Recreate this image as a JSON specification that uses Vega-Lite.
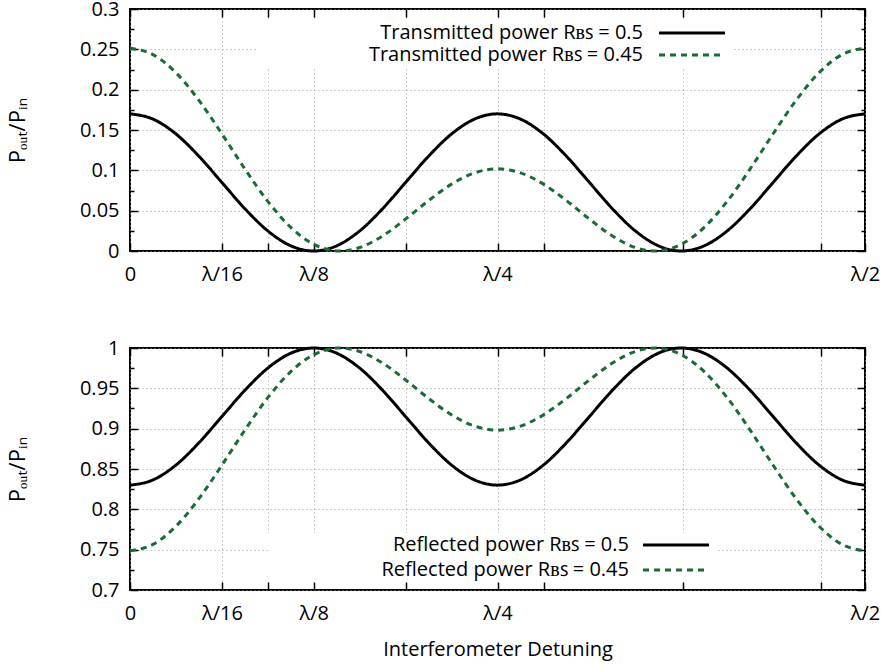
{
  "$schema": "https://vega.github.io/schema/vega-lite/v6.json",
  "padding": {"left": 5, "top": -2, "right": 4, "bottom": 5},
  "background": "white",
  "config": {
    "font": "Open Sans",
    "view": {"stroke": "black", "strokeWidth": 2},
    "axis": {
      "labelFont": "Open Sans", "labelFontSize": 20, "labelColor": "black",
      "titleFont": "Open Sans", "titleFontSize": 20, "titleFontWeight": "normal", "titleColor": "black",
      "domain": false, "gridColor": "#9a9a9a", "gridDash": [1, 3], "gridWidth": 1,
      "tickColor": "black", "tickWidth": 1.5,
      "labelFlush": false, "labelOverlap": false, "labelBound": false
    },
    "legend": {"labelFont": "Open Sans", "labelFontSize": 20, "labelColor": "black", "labelLimit": 600}
  },
  "datasets": {
    "d": [
      {"x": 0, "T50": 0.17, "T45": 0.25135, "R50": 0.83, "R45": 0.74865},
      {"x": 16.625, "T50": 0.16353, "T45": 0.243508, "R50": 0.83647, "R45": 0.756492},
      {"x": 33.25, "T50": 0.145104, "T45": 0.221013, "R50": 0.854896, "R45": 0.778987},
      {"x": 49.875, "T50": 0.117528, "T45": 0.186805, "R50": 0.882472, "R45": 0.813195},
      {"x": 66.5, "T50": 0.085, "T45": 0.145306, "R50": 0.915, "R45": 0.854694},
      {"x": 83.125, "T50": 0.052472, "T45": 0.101776, "R50": 0.947528, "R45": 0.898224},
      {"x": 99.75, "T50": 0.024896, "T45": 0.061553, "R50": 0.975104, "R45": 0.938447},
      {"x": 116.375, "T50": 0.00647, "T45": 0.029288, "R50": 0.99353, "R45": 0.970712},
      {"x": 133, "T50": 0, "T45": 0.0083, "R50": 1, "R45": 0.9917},
      {"x": 149.625, "T50": 0.00647, "T45": 0.000123, "R50": 0.99353, "R45": 0.999877},
      {"x": 151.94, "T50": 0.008385, "T45": 0, "R50": 0.991615, "R45": 1},
      {"x": 166.25, "T50": 0.024896, "T45": 0.004341, "R50": 0.975104, "R45": 0.995659},
      {"x": 182.875, "T50": 0.052472, "T45": 0.018718, "R50": 0.947528, "R45": 0.981282},
      {"x": 199.5, "T50": 0.085, "T45": 0.039594, "R50": 0.915, "R45": 0.960406},
      {"x": 216.125, "T50": 0.117528, "T45": 0.0625, "R50": 0.882472, "R45": 0.9375},
      {"x": 232.75, "T50": 0.145104, "T45": 0.082893, "R50": 0.854896, "R45": 0.917107},
      {"x": 249.375, "T50": 0.16353, "T45": 0.096881, "R50": 0.83647, "R45": 0.903119},
      {"x": 266, "T50": 0.17, "T45": 0.10185, "R50": 0.83, "R45": 0.89815},
      {"x": 282.625, "T50": 0.16353, "T45": 0.096881, "R50": 0.83647, "R45": 0.903119},
      {"x": 299.25, "T50": 0.145104, "T45": 0.082893, "R50": 0.854896, "R45": 0.917107},
      {"x": 315.875, "T50": 0.117528, "T45": 0.0625, "R50": 0.882472, "R45": 0.9375},
      {"x": 332.5, "T50": 0.085, "T45": 0.039594, "R50": 0.915, "R45": 0.960406},
      {"x": 349.125, "T50": 0.052472, "T45": 0.018718, "R50": 0.947528, "R45": 0.981282},
      {"x": 365.75, "T50": 0.024896, "T45": 0.004341, "R50": 0.975104, "R45": 0.995659},
      {"x": 380.06, "T50": 0.008385, "T45": 0, "R50": 0.991615, "R45": 1},
      {"x": 382.375, "T50": 0.00647, "T45": 0.000123, "R50": 0.99353, "R45": 0.999877},
      {"x": 399, "T50": 0, "T45": 0.0083, "R50": 1, "R45": 0.9917},
      {"x": 415.625, "T50": 0.00647, "T45": 0.029288, "R50": 0.99353, "R45": 0.970712},
      {"x": 432.25, "T50": 0.024896, "T45": 0.061553, "R50": 0.975104, "R45": 0.938447},
      {"x": 448.875, "T50": 0.052472, "T45": 0.101776, "R50": 0.947528, "R45": 0.898224},
      {"x": 465.5, "T50": 0.085, "T45": 0.145306, "R50": 0.915, "R45": 0.854694},
      {"x": 482.125, "T50": 0.117528, "T45": 0.186805, "R50": 0.882472, "R45": 0.813195},
      {"x": 498.75, "T50": 0.145104, "T45": 0.221013, "R50": 0.854896, "R45": 0.778987},
      {"x": 515.375, "T50": 0.16353, "T45": 0.243508, "R50": 0.83647, "R45": 0.756492},
      {"x": 532, "T50": 0.17, "T45": 0.25135, "R50": 0.83, "R45": 0.74865}
    ]
  },
  "spacing": 52,
  "resolve": {"scale": {"color": "independent", "strokeDash": "independent"}},
  "vconcat": [
    {
      "width": 735, "height": 242,
      "data": {"name": "d"},
      "transform": [{"fold": ["T50", "T45"], "as": ["s", "p"]}],
      "layer": [
        {
          "mark": {"type": "line", "strokeWidth": 3, "interpolate": "monotone"},
          "encoding": {
            "x": {"field": "x", "type": "quantitative", "scale": {"domain": [0, 532], "nice": false, "zero": false},
              "axis": {"orient": "bottom", "title": null, "values": [0, 66.5, 100, 133, 200, 266, 300, 400, 500, 532],
                "labelExpr": "datum.value == 0 ? '0' : datum.value == 66.5 ? 'λ/16' : datum.value == 133 ? 'λ/8' : datum.value == 266 ? 'λ/4' : datum.value == 532 ? 'λ/2' : ''",
                "tickSize": -8, "labelPadding": 21, "grid": true}},
            "y": {"field": "p", "type": "quantitative", "scale": {"domain": [0, 0.3], "nice": false},
              "axis": {"orient": "left", "title": "Pₒᵤₜ/Pᵢₙ", "titleFontSize": 22, "values": [0, 0.05, 0.1, 0.15, 0.2, 0.25, 0.3], "format": "~g",
                "tickSize": -8, "labelPadding": 19, "grid": true, "titlePadding": 50}},
            "color": {"field": "s", "type": "nominal", "scale": {"domain": ["T50", "T45"], "range": ["#000000", "#1b6b35"]},
              "legend": {"title": null, "orient": "none", "legendX": 127, "legendY": 11, "symbolType": "M-6,0H6", "symbolSize": 121, "symbolStrokeWidth": 3,
                "labelAlign": "right", "symbolOffset": 422, "labelOffset": -59, "fillColor": "white", "padding": 3, "rowPadding": 2,
                "labelExpr": "datum.value == 'T50' ? '\u2007Transmitted power Rʙꜱ = 0.5' : 'Transmitted power Rʙꜱ = 0.45'"}},
            "strokeDash": {"field": "s", "type": "nominal", "scale": {"domain": ["T50", "T45"], "range": [[1, 0], [6, 5]]},
              "legend": {"title": null, "orient": "none", "legendX": 127, "legendY": 11, "symbolType": "M-6,0H6", "symbolSize": 121, "symbolStrokeWidth": 3,
                "labelAlign": "right", "symbolOffset": 422, "labelOffset": -59, "fillColor": "white", "padding": 3, "rowPadding": 2,
                "labelExpr": "datum.value == 'T50' ? '\u2007Transmitted power Rʙꜱ = 0.5' : 'Transmitted power Rʙꜱ = 0.45'"}}
          }
        },
        {
          "mark": {"type": "point", "opacity": 0},
          "encoding": {
            "x": {"field": "x", "type": "quantitative", "axis": {"orient": "top", "title": null, "values": [0, 66.5, 100, 133, 200, 266, 300, 400, 500, 532], "labels": false, "tickSize": -8, "grid": false}},
            "y": {"field": "p", "type": "quantitative", "axis": {"orient": "right", "title": null, "values": [0, 0.05, 0.1, 0.15, 0.2, 0.25, 0.3], "labels": false, "tickSize": -8, "grid": false}}
          }
        },
        {
          "mark": {"type": "point", "opacity": 0},
          "encoding": {
            "x": {"field": "x", "type": "quantitative", "axis": null},
            "y": {"field": "p", "type": "quantitative", "axis": {"orient": "left", "title": null, "values": [0.025, 0.075, 0.125, 0.175, 0.225, 0.275], "labels": false, "tickSize": -4, "grid": false}}
          }
        },
        {
          "mark": {"type": "point", "opacity": 0},
          "encoding": {
            "x": {"field": "x", "type": "quantitative", "axis": null},
            "y": {"field": "p", "type": "quantitative", "axis": {"orient": "right", "title": null, "values": [0.025, 0.075, 0.125, 0.175, 0.225, 0.275], "labels": false, "tickSize": -4, "grid": false}}
          }
        }
      ],
      "resolve": {"axis": {"x": "independent", "y": "independent"}}
    },
    {
      "width": 735, "height": 242,
      "data": {"name": "d"},
      "transform": [{"fold": ["R50", "R45"], "as": ["s", "p"]}],
      "layer": [
        {
          "mark": {"type": "line", "strokeWidth": 3, "interpolate": "monotone"},
          "encoding": {
            "x": {"field": "x", "type": "quantitative", "scale": {"domain": [0, 532], "nice": false, "zero": false},
              "axis": {"orient": "bottom", "title": "Interferometer Detuning", "titlePadding": 16, "values": [0, 66.5, 100, 133, 200, 266, 300, 400, 500, 532],
                "labelExpr": "datum.value == 0 ? '0' : datum.value == 66.5 ? 'λ/16' : datum.value == 133 ? 'λ/8' : datum.value == 266 ? 'λ/4' : datum.value == 532 ? 'λ/2' : ''",
                "tickSize": -8, "labelPadding": 21, "grid": true}},
            "y": {"field": "p", "type": "quantitative", "scale": {"domain": [0.7, 1], "nice": false, "zero": false},
              "axis": {"orient": "left", "title": "Pₒᵤₜ/Pᵢₙ", "titleFontSize": 22, "values": [0.7, 0.75, 0.8, 0.85, 0.9, 0.95, 1], "format": "~g",
                "tickSize": -8, "labelPadding": 19, "grid": true, "titlePadding": 50}},
            "color": {"field": "s", "type": "nominal", "scale": {"domain": ["R50", "R45"], "range": ["#000000", "#1b6b35"]},
              "legend": {"title": null, "orient": "none", "legendX": 138, "legendY": 185, "symbolType": "M-6,0H6", "symbolSize": 121, "symbolStrokeWidth": 3,
                "labelAlign": "right", "symbolOffset": 396, "labelOffset": -57, "fillColor": "white", "padding": 2, "rowPadding": 5,
                "labelExpr": "datum.value == 'R50' ? '\u2007Reflected power Rʙꜱ = 0.5' : 'Reflected power Rʙꜱ = 0.45'"}},
            "strokeDash": {"field": "s", "type": "nominal", "scale": {"domain": ["R50", "R45"], "range": [[1, 0], [6, 5]]},
              "legend": {"title": null, "orient": "none", "legendX": 138, "legendY": 185, "symbolType": "M-6,0H6", "symbolSize": 121, "symbolStrokeWidth": 3,
                "labelAlign": "right", "symbolOffset": 396, "labelOffset": -57, "fillColor": "white", "padding": 2, "rowPadding": 5,
                "labelExpr": "datum.value == 'R50' ? '\u2007Reflected power Rʙꜱ = 0.5' : 'Reflected power Rʙꜱ = 0.45'"}}
          }
        },
        {
          "mark": {"type": "point", "opacity": 0},
          "encoding": {
            "x": {"field": "x", "type": "quantitative", "axis": {"orient": "top", "title": null, "values": [0, 66.5, 100, 133, 200, 266, 300, 400, 500, 532], "labels": false, "tickSize": -8, "grid": false}},
            "y": {"field": "p", "type": "quantitative", "axis": {"orient": "right", "title": null, "values": [0.7, 0.75, 0.8, 0.85, 0.9, 0.95, 1], "labels": false, "tickSize": -8, "grid": false}}
          }
        },
        {
          "mark": {"type": "point", "opacity": 0},
          "encoding": {
            "x": {"field": "x", "type": "quantitative", "axis": null},
            "y": {"field": "p", "type": "quantitative", "axis": {"orient": "left", "title": null, "values": [0.725, 0.775, 0.825, 0.875, 0.925, 0.975], "labels": false, "tickSize": -4, "grid": false}}
          }
        },
        {
          "mark": {"type": "point", "opacity": 0},
          "encoding": {
            "x": {"field": "x", "type": "quantitative", "axis": null},
            "y": {"field": "p", "type": "quantitative", "axis": {"orient": "right", "title": null, "values": [0.725, 0.775, 0.825, 0.875, 0.925, 0.975], "labels": false, "tickSize": -4, "grid": false}}
          }
        }
      ],
      "resolve": {"axis": {"x": "independent", "y": "independent"}}
    }
  ]
}
